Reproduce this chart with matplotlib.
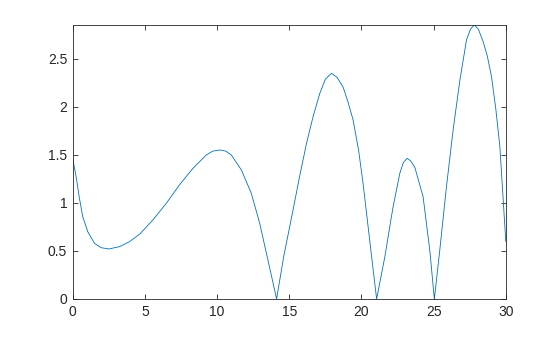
import matplotlib
matplotlib.use("Agg")
import matplotlib.pyplot as plt

# values
x = [0, 0.23, 0.46, 0.69, 1.04, 1.50, 1.97, 2.50, 3.24, 3.93, 4.63, 5.55,
     6.48, 7.40, 8.32, 9.25, 9.7, 10.17, 10.6, 10.98, 11.68, 12.37, 12.95,
     13.52, 14.12, 14.61, 15.26, 15.72, 16.19, 16.65, 17.11, 17.5, 17.92,
     18.3, 18.72, 19.05, 19.42, 19.8, 20.11, 20.58, 21.05, 21.62, 22.19,
     22.66, 22.9, 23.16, 23.4, 23.70, 24.27, 24.74, 25.05, 25.42, 25.89,
     26.35, 26.82, 27.28, 27.55, 27.81, 28.1, 28.43, 28.72, 29.01, 29.3,
     29.59, 30]
y = [1.455, 1.274, 1.049, 0.857, 0.70, 0.58, 0.534, 0.521, 0.545, 0.597,
     0.675, 0.823, 0.997, 1.19, 1.36, 1.50, 1.54, 1.552, 1.54, 1.50, 1.344,
     1.10, 0.788, 0.406, 0.0, 0.44, 0.927, 1.28, 1.62, 1.90, 2.14, 2.29,
     2.35, 2.31, 2.21, 2.06, 1.865, 1.55, 1.205, 0.60, 0.0, 0.44, 0.96,
     1.31, 1.42, 1.465, 1.44, 1.37, 1.066, 0.50, 0.0, 0.50, 1.17, 1.76,
     2.28, 2.70, 2.81, 2.854, 2.81, 2.68, 2.53, 2.316, 1.99, 1.586, 0.60]

xticks = [0, 5, 10, 15, 20, 25, 30]
yticks = [0, 0.5, 1, 1.5, 2, 2.5]
ylabels = ["0", "0.5", "1", "1.5", "2", "2.5"]

plt.rcParams["font.family"] = ["Liberation Sans", "DejaVu Sans"]

fig = plt.figure(figsize=(5.6, 3.37), dpi=100)
ax = fig.add_axes([0.13, 0.1128, 0.7732, 0.8131])
ax.plot(x, y, color="#0072BD", linewidth=0.6, solid_joinstyle="round")

ax.set_xlim(0, 30)
ax.set_ylim(0, max(y))
ax.set_xticks(xticks)
ax.set_yticks(yticks)
ax.set_yticklabels(ylabels)

dark = "#262626"
for s in ax.spines.values():
    s.set_linewidth(0.6)
    s.set_color(dark)
ax.tick_params(direction="in", length=3.5, width=0.6, colors=dark,
               labelsize=10, top=True, right=True, pad=4)

fig.savefig("out.png", dpi=100)
